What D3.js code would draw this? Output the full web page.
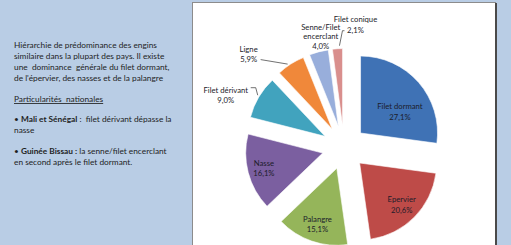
<!DOCTYPE html>
<html>
<head>
<meta charset="utf-8">
<script src="https://cdn.jsdelivr.net/npm/d3@7/dist/d3.min.js"></script>
<style>
body{margin:0;background:#b9cde5;}
svg{display:block;font-family:Lato,"Open Sans",sans-serif;}
</style>
</head>
<body>
<svg id="chart" width="511" height="245"></svg>
<script>
// data
const gears = ["Filet dormant","Epervier","Palangre","Nasse","Filet dérivant","Ligne","Senne/Filet encerclant","Filet conique"];
const shares = [27.1,20.6,15.1,16.1,9.0,5.9,4.0,2.1];
const shareLabels = ["27,1%","20,6%","15,1%","16,1%","9,0%","5,9%","4,0%","2,1%"];
const colours = ["#3f72b5","#be4b48","#95b55a","#7b5fa0","#41a3be","#f0883a","#98aedb","#d98f8d"];

const noteLines = [
  [{t:"Hiérarchie de prédominance des engins"}],
  [{t:"similaire dans la plupart des pays. Il existe"}],
  [{t:"une  dominance  générale du filet dormant,"}],
  [{t:"de l'épervier, des nasses et de la palangre"}],
  null,
  [{t:"Particularités  nationales",u:true}],
  null,
  [{t:"• "},{t:"Mali et Sénégal",b:true},{t:" :  filet dérivant dépasse la"}],
  [{t:"nasse"}],
  null,
  [{t:"• "},{t:"Guinée Bissau :",b:true},{t:" la senne/filet encerclant"}],
  [{t:"en second après le filet dormant."}]
];

const svg = d3.select("#chart");

// left note
const note = svg.append("g").attr("transform","translate(14,48)");
let ny = 0;
noteLines.forEach(function(line){
  if(line){
    const t = note.append("text").attr("y",ny).attr("font-size",8.3).attr("fill","#1e1e1e")
      .attr("xml:space","preserve");
    line.forEach(function(p){
      t.append("tspan").text(p.t)
        .attr("font-weight",p.b?"bold":null)
        .attr("text-decoration",p.u?"underline":null);
    });
    ny += line[0].u ? 10.4 : 11.1;
  } else {
    ny += 9.6;
  }
});

// chart box
svg.append("rect").attr("x",192.5).attr("y",2.5).attr("width",303).attr("height",260)
  .attr("fill","#fff").attr("stroke","#8c8c8c").attr("stroke-width",1);
svg.append("line").attr("x1",496).attr("x2",496).attr("y1",3).attr("y2",245)
  .attr("stroke","#4a4a4a").attr("stroke-width",2);

// exploded pie
const cx = 344, cy = 147.5, r = 77, explode = 22;
const pie = d3.pie().sort(null).value(d => d)(shares);
const arc = d3.arc().innerRadius(0).outerRadius(r);
const mid = d => (d.startAngle + d.endAngle) / 2;
const dir = a => [Math.sin(a), -Math.cos(a)];

const plot = svg.append("g").attr("transform",`translate(${cx},${cy})`);
const slices = plot.selectAll("g.slice").data(pie).join("g")
  .attr("class","slice")
  .attr("transform", d => { const v = dir(mid(d)); return `translate(${v[0]*explode},${v[1]*explode})`; });
slices.append("path").attr("d",arc)
  .attr("fill",(d,i) => colours[i]).attr("stroke","#fff").attr("stroke-width",0.6);

// label lines per slice
const labelLines = [["Filet dormant"],["Epervier"],["Palangre"],["Nasse"],["Filet dérivant"],["Ligne"],["Senne/Filet","encerclant"],["Filet conique"]];

// inside labels: [angle shift (deg), radius factor]
const inside = {0:[13,0.58],1:[0,0.77],2:[0,0.77],3:[0,0.79]};
// outside labels: offset of label centre from outer arc midpoint, leader path, line height
const outside = {
  4:{dx:-33,dy:-2,lh:10.6,lead:[[-8,-9.5],[-3,-9.5],[-1,-2]]},
  5:{dx:-42,dy:-10,lh:10.6,lead:[[-30,-4.5],[-3,0]]},
  6:{dx:2,dy:-15,lh:9.3,lead:null},
  7:{dx:18,dy:-24,lh:10.6,lead:[[7,-18],[5,-18],[2,-3]]}
};
const fs = 7.7;
slices.each(function(d,i){
  const g = d3.select(this);
  const lines = labelLines[i].concat([shareLabels[i]]);
  let px, py, lh = 10.6;
  if(inside[i]){
    const a = mid(d) + inside[i][0]*Math.PI/180, v = dir(a);
    px = v[0]*r*inside[i][1]; py = v[1]*r*inside[i][1];
  } else {
    const v = dir(mid(d)), o = outside[i];
    const ox = v[0]*r, oy = v[1]*r;
    px = ox + o.dx; py = oy + o.dy; lh = o.lh;
    if(o.lead){
      g.append("path").attr("d", d3.line()(o.lead.map(p => [ox+p[0], oy+p[1]])))
        .attr("fill","none").attr("stroke","#333").attr("stroke-width",0.7);
    }
  }
  const y0 = py - (lines.length-1)*lh/2;
  lines.forEach(function(s,k){
    g.append("text").attr("x",px).attr("y",y0+k*lh).attr("dy","0.35em")
      .attr("text-anchor","middle").attr("font-size",fs).attr("fill","#1c1c2a").text(s);
  });
});
</script>
</body>
</html>
